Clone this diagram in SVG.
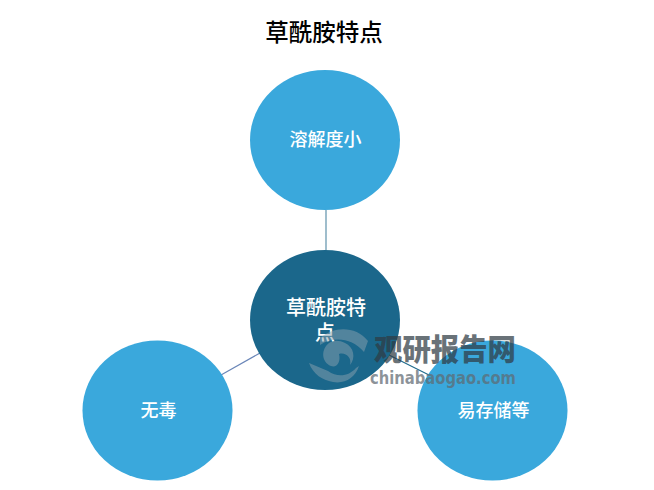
<svg xmlns="http://www.w3.org/2000/svg" width="654" height="490" viewBox="0 0 654 490">
<style>
text{font-family:"Noto Sans CJK SC","Noto Sans",sans-serif;text-anchor:middle}
.l{fill:#fff;font-size:18px;font-weight:500}
.m{font-size:20px}
.c{fill:#3aa8dc}
.w{fill:#2f3b44;fill-opacity:.72}
</style>
<rect width="654" height="490" fill="#fff"/>
<text x="324" y="41" font-size="23.500" font-weight="500" fill="#000">草酰胺特点</text>
<g id="connectors" fill="none" stroke-width="1.2">
<path d="M326 210V251" stroke="#5f92ab"/>
<path d="M221 375L260 353" stroke="#6a86b8"/>
<path d="M389 355L431 376" stroke="#1f6a8c"/>
</g>
<g id="node-top"><ellipse class="c" cx="325" cy="140" rx="75" ry="70"/><text class="l" x="325.500" y="146">溶解度小</text></g>
<g id="node-left"><ellipse class="c" cx="157.500" cy="410.500" rx="75" ry="70"/><text class="l" x="158.500" y="417">无毒</text></g>
<g id="node-right"><ellipse class="c" cx="492.500" cy="410.500" rx="75" ry="70"/><text class="l" x="493.500" y="417">易存储等</text></g>
<g id="node-center"><ellipse cx="325" cy="320" rx="75" ry="70" fill="#1b678b"/>
<text class="l m"><tspan x="326" y="315">草酰胺特</tspan><tspan x="325" y="340">点</tspan></text></g>
<g id="watermark">
<path d="M320 338C334 326 356 326 368 341L364 352C352 338 334 336 320 345ZM309 363L328 371C338 378 349 376 356 368L359 366C355 378 345 384 333 382C322 380 313 374 309 363ZM329 343C321 349 321 362 331 366C337 368 341 362 339 354C346 352 352 358 350 365C356 358 354 347 345 343C339 340 334 340 329 343Z" fill="#8aa2b0" fill-opacity=".5"/>
<text class="w" x="445" y="360" font-size="30" font-weight="900" textLength="142" lengthAdjust="spacingAndGlyphs">观研报告网</text>
<text x="443" y="384" font-size="18.500" font-weight="700" fill="#5f6a72" fill-opacity=".72" textLength="146" lengthAdjust="spacingAndGlyphs" style="font-family:'DejaVu Sans',sans-serif">chinabaogao.com</text>
</g>
</svg>
